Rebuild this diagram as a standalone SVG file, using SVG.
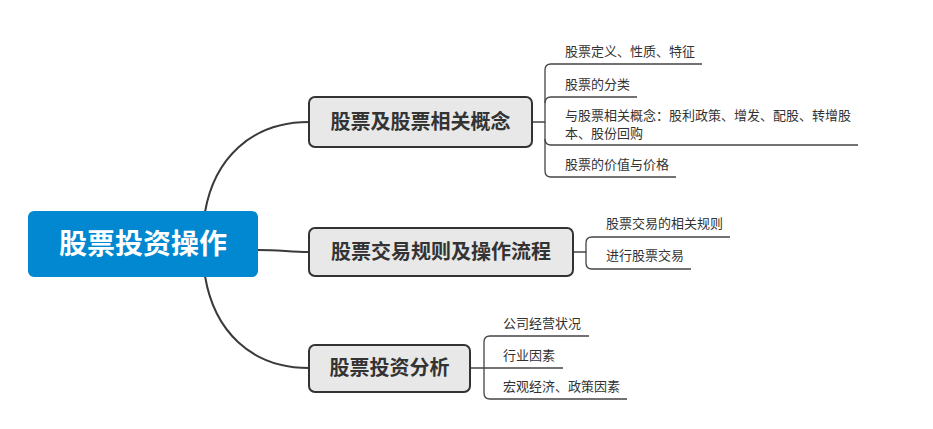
<svg xmlns="http://www.w3.org/2000/svg" width="933" height="429" viewBox="0 0 933 429">
<style>
.root{fill:#0288D1;}
.main{fill:#E8E8E8;stroke:#333;stroke-width:2;}
.rt{font-family:"Noto Sans CJK SC",sans-serif;font-size:28px;font-weight:bold;fill:#fff;}
.mt{font-family:"Noto Sans CJK SC",sans-serif;font-size:20px;font-weight:bold;fill:#333;}
.ct{font-family:"Noto Sans CJK SC",sans-serif;font-size:13px;fill:#333;}
.c1{fill:none;stroke:#3a3a3a;stroke-width:2;}
.c2{fill:none;stroke:#444;stroke-width:1.3;}
</style>
<rect width="933" height="429" fill="#fff"/>
<g id="connectors">
<path class="c1" d="M205,212 C214,160 250,122 309,122"/>
<path class="c1" d="M258,250 C280,250 290,252 309,252"/>
<path class="c1" d="M205,276 C214,330 250,368 309,368"/>
<path class="c2" d="M532,122 L545,122 L545,70 Q545,64 551,64 L702,64"/>
<path class="c2" d="M545,103 Q545,97 551,97 L637,97"/>
<path class="c2" d="M545,122 L545,139 Q545,145 551,145 L858,145"/>
<path class="c2" d="M545,139 L545,171 Q545,177 551,177 L676,177"/>
<path class="c2" d="M573,252 L586,252 L586,243 Q586,237 592,237 L730,237"/>
<path class="c2" d="M586,252 L586,263 Q586,269 592,269 L691,269"/>
<path class="c2" d="M470,368 L563,368"/>
<path class="c2" d="M484,368 L484,342 Q484,336 490,336 L589,336"/>
<path class="c2" d="M484,368 L484,393 Q484,399 490,399 L627,399"/>
</g>
<g id="root">
<rect class="root" x="28" y="211" width="230" height="66" rx="6"/>
<text class="rt" x="143" y="254" text-anchor="middle">股票投资操作</text>
</g>
<g id="n1">
<rect class="main" x="309" y="97" width="223" height="50" rx="6"/>
<text class="mt" x="420.5" y="129" text-anchor="middle">股票及股票相关概念</text>
</g>
<g id="n2">
<rect class="main" x="309" y="228" width="264" height="48" rx="6"/>
<text class="mt" x="441" y="259" text-anchor="middle">股票交易规则及操作流程</text>
</g>
<g id="n3">
<rect class="main" x="309" y="345" width="161" height="47" rx="6"/>
<text class="mt" x="389.5" y="375" text-anchor="middle">股票投资分析</text>
</g>
<g id="n1c1"><text class="ct" x="565" y="56">股票定义、性质、特征</text></g>
<g id="n1c2"><text class="ct" x="565" y="89">股票的分类</text></g>
<g id="n1c3"><text class="ct" x="565" y="120">与股票相关概念：股利政策、增发、配股、转增股</text><text class="ct" x="565" y="138">本、股份回购</text></g>
<g id="n1c4"><text class="ct" x="565" y="169">股票的价值与价格</text></g>
<g id="n2c1"><text class="ct" x="606" y="228">股票交易的相关规则</text></g>
<g id="n2c2"><text class="ct" x="606" y="260">进行股票交易</text></g>
<g id="n3c1"><text class="ct" x="503" y="328">公司经营状况</text></g>
<g id="n3c2"><text class="ct" x="503" y="360">行业因素</text></g>
<g id="n3c3"><text class="ct" x="503" y="391">宏观经济、政策因素</text></g>
</svg>
